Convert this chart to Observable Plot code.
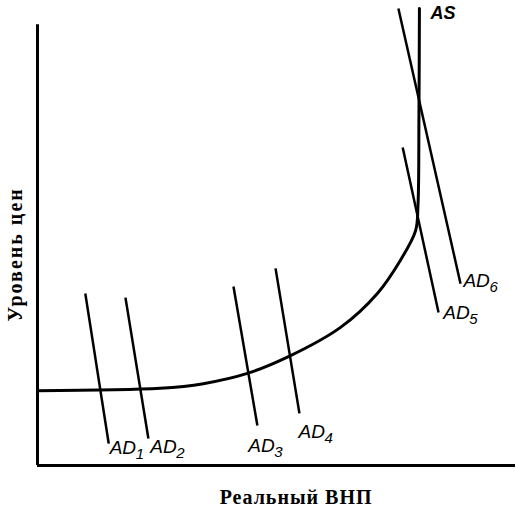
<!DOCTYPE html>
<html>
<head>
<meta charset="utf-8">
<script src="https://cdn.jsdelivr.net/npm/d3@7"></script>
<script src="https://cdn.jsdelivr.net/npm/@observablehq/plot@0.6"></script>
<style>
  html, body { margin: 0; padding: 0; background: #fff; }
  #chart { width: 516px; height: 510px; }
</style>
</head>
<body>
<div id="chart"></div>
<script>
// Aggregate supply curve (real GNP, price level), in 0–100 units
const asX = [0, 25.7, 34.7, 43.9, 52.5, 63.4, 71.1, 75.9, 79.1, 79.6, 79.8, 79.9];
const asY = [16.1, 16.6, 17.6, 19.8, 23.4, 29.7, 37.0, 44.1, 50.5, 56.0, 75.0, 98.3];

// Aggregate demand lines: top and bottom ends
const adIndex = ["1", "2", "3", "4", "5", "6"];
const adTopX = [10.0, 18.4, 41.0, 49.8, 76.4, 75.5];
const adTopY = [37.0, 36.1, 38.5, 42.4, 68.4, 98.3];
const adBotX = [14.9, 23.2, 46.0, 54.8, 83.9, 88.5];
const adBotY = [4.7, 5.8, 8.6, 11.2, 32.9, 39.1];

// Label anchor positions (left, baseline)
const adLabelX = [15.1, 23.6, 44.1, 54.6, 84.9, 89.1];
const adLabelY = [2.4, 2.6, 2.8, 6.0, 31.6, 38.3];
const asLabel = {text: "AS", x: 82.2, y: 96.1};

const xTitle = "Реальный ВНП";
const yTitle = "Уровень цен";

const asData = asX.map((x, i) => ({x, y: asY[i]}));
const adData = adIndex.map((k, i) => ({
  k, x1: adTopX[i], y1: adTopY[i], x2: adBotX[i], y2: adBotY[i],
  lx: adLabelX[i], ly: adLabelY[i]
}));

const chart = Plot.plot({
  width: 516,
  height: 510,
  marginLeft: 37,
  marginRight: 1,
  marginTop: 0,
  marginBottom: 45,
  x: {domain: [0, 100], axis: null},
  y: {domain: [0, 100], axis: null},
  style: {background: "#fff"},
  marks: [
    // axes
    Plot.ruleX([0], {y1: 0, y2: 94.8, stroke: "#000", strokeWidth: 3}),
    Plot.ruleY([0], {x1: 0, x2: 100, stroke: "#000", strokeWidth: 3}),
    // AD lines
    Plot.link(adData, {x1: "x1", y1: "y1", x2: "x2", y2: "y2", stroke: "#000", strokeWidth: 2.5}),
    // AS curve
    Plot.line(asData, {x: "x", y: "y", curve: "catmull-rom", stroke: "#000", strokeWidth: 3}),
    // AD labels
    Plot.text(adData, {x: "lx", y: "ly", text: () => "AD", textAnchor: "start", lineAnchor: "bottom",
      fontSize: 19, fontStyle: "italic", fontFamily: "Liberation Sans, Arial, sans-serif", fill: "#000"}),
    Plot.text(adData, {x: "lx", y: "ly", text: "k", textAnchor: "start", lineAnchor: "bottom", dx: 26, dy: 5,
      fontSize: 15, fontStyle: "italic", fontFamily: "Liberation Sans, Arial, sans-serif", fill: "#000"}),
    Plot.text([asLabel], {x: "x", y: "y", text: "text", textAnchor: "start", lineAnchor: "bottom",
      fontSize: 18, fontStyle: "italic", fontWeight: "bold", fontFamily: "Liberation Sans, Arial, sans-serif", fill: "#000"}),
    // axis titles
    Plot.text([xTitle], {frameAnchor: "bottom", x: 54.1, text: d => d, dy: 38, lineAnchor: "bottom", textAnchor: "middle",
      fontSize: 20, fontWeight: "bold", fontFamily: "Liberation Serif, Times New Roman, serif", fill: "#000"}),
    Plot.text([yTitle], {frameAnchor: "left", y: 45.4, text: d => d, rotate: -90, dx: -22,
      textAnchor: "middle", lineAnchor: "middle",
      fontSize: 20, fontWeight: "bold", fontFamily: "Liberation Serif, Times New Roman, serif", fill: "#000"})
  ]
});
chart.querySelectorAll("text").forEach(t => {
  const s = t.textContent;
  if (s === xTitle) t.setAttribute("letter-spacing", "1");
  if (s === yTitle) t.setAttribute("letter-spacing", "2");
});
document.getElementById("chart").appendChild(chart);
</script>
</body>
</html>
